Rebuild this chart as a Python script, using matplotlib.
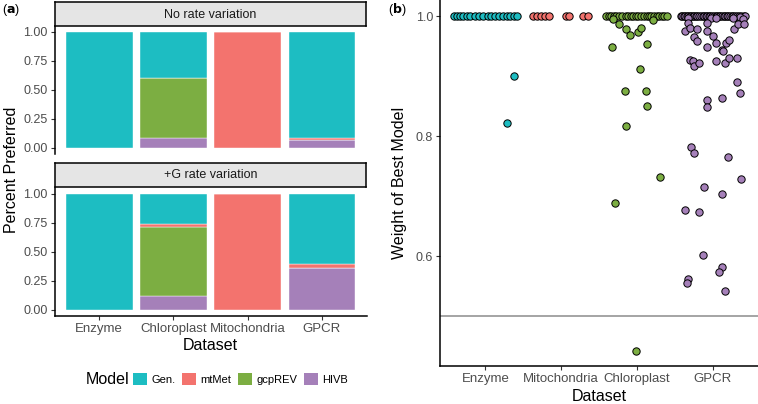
import numpy as np
import matplotlib
matplotlib.use("Agg")
import matplotlib.pyplot as plt
from matplotlib.patches import Patch

plt.rcParams['font.family'] = ['Liberation Sans', 'DejaVu Sans']

# ---- data: panel (a) ----
datasets_a = ['Enzyme', 'Chloroplast', 'Mitochondria', 'GPCR']
models = ['HIVB', 'gcpREV', 'mtMet', 'Gen.']          # stacking order, bottom -> top
legend_order = ['Gen.', 'mtMet', 'gcpREV', 'HIVB']
colors = {'Gen.': '#1DBDC2', 'mtMet': '#F3736E', 'gcpREV': '#7CAE42', 'HIVB': '#A580B9'}

no_rate = {
    'HIVB':   [0.0, 0.084, 0.0, 0.065],
    'gcpREV': [0.0, 0.519, 0.0, 0.0],
    'mtMet':  [0.0, 0.0, 1.0, 0.015],
    'Gen.':   [1.0, 0.397, 0.0, 0.920],
}
g_rate = {
    'HIVB':   [0.0, 0.123, 0.0, 0.364],
    'gcpREV': [0.0, 0.593, 0.0, 0.0],
    'mtMet':  [0.0, 0.021, 1.0, 0.034],
    'Gen.':   [1.0, 0.263, 0.0, 0.602],
}

# ---- data: panel (b) ----
datasets_b = ['Enzyme', 'Mitochondria', 'Chloroplast', 'GPCR']

enzyme_w = [1.0] * 18 + [0.900, 0.822]
enzyme_j = [-0.42, -0.38, -0.34, -0.29, -0.25, -0.20, -0.14, -0.08, -0.03,
            0.03, 0.08, 0.13, 0.18, 0.23, 0.28, 0.33, 0.38, 0.42, 0.38, 0.28]

mito_w = [1.0] * 9
mito_j = [-0.37, -0.32, -0.26, -0.21, -0.16, 0.07, 0.11, 0.29, 0.36]

chloro_w = [1.0] * 24 + [0.995, 0.987, 0.978, 0.969, 0.973, 0.980, 0.993, 0.949,
                         0.953, 0.911, 0.875, 0.875, 0.850, 0.817, 0.732, 0.688, 0.443]
chloro_j = [-0.41, -0.37, -0.34, -0.30, -0.27, -0.23, -0.19, -0.15, -0.12, -0.08,
            -0.05, -0.01, 0.02, 0.06, 0.09, 0.13, 0.16, 0.19, 0.23, 0.26, 0.29,
            0.33, 0.36, 0.40,
            -0.32, -0.24, -0.14, -0.09, 0.01, 0.05, 0.21, -0.33,
            0.13, 0.04, -0.16, 0.12, 0.14, -0.14, 0.30, -0.29, -0.01]

gpcr_w = [1.0] * 40 + [0.997, 0.996, 0.998, 0.995, 0.997, 0.996,
                       0.975, 0.988, 0.980, 0.965, 0.958, 0.978, 0.988, 0.975,
                       0.967, 0.955, 0.949, 0.955, 0.960, 0.943, 0.942, 0.978,
                       0.987, 0.987, 0.927, 0.925, 0.917, 0.922, 0.925, 0.921,
                       0.930, 0.930, 0.890, 0.872, 0.860, 0.848, 0.863, 0.782,
                       0.772, 0.765, 0.728, 0.715, 0.703, 0.677, 0.673, 0.602,
                       0.582, 0.573, 0.562, 0.555, 0.542]
gpcr_j = [-0.42, -0.40, -0.38, -0.36, -0.34, -0.32, -0.30, -0.28, -0.26, -0.24,
          -0.22, -0.20, -0.18, -0.15, -0.13, -0.11, -0.09, -0.07, -0.05, -0.03,
          -0.01, 0.02, 0.04, 0.06, 0.08, 0.10, 0.12, 0.15, 0.17, 0.19,
          0.21, 0.23, 0.25, 0.27, 0.30, 0.32, 0.35, 0.38, 0.41, 0.43,
          -0.02, 0.05, 0.36, 0.40, 0.27, -0.33,
          -0.36, -0.32, -0.30, -0.25, -0.20, -0.20, -0.08, -0.07,
          0.01, 0.05, -0.08, 0.18, 0.22, 0.13, 0.14, 0.28,
          0.34, 0.41, -0.30, -0.26, -0.25, -0.18, 0.05, 0.16,
          0.22, 0.32, 0.32, 0.36, -0.08, -0.07, 0.13, -0.29,
          -0.25, 0.20, 0.37, -0.11, 0.13, -0.36, -0.18, -0.13,
          0.12, 0.08, -0.33, -0.34, 0.17]

points_b = {
    'Enzyme': (enzyme_w, enzyme_j, colors['Gen.']),
    'Mitochondria': (mito_w, mito_j, colors['mtMet']),
    'Chloroplast': (chloro_w, chloro_j, colors['gcpREV']),
    'GPCR': (gpcr_w, gpcr_j, colors['HIVB']),
}

W, H = 758, 404
fig = plt.figure(figsize=(W / 100, H / 100), dpi=100)


def frac(x0, y0, x1, y1):
    # pixel box (top-left origin) -> figure fraction rect
    return [x0 / W, 1 - y1 / H, (x1 - x0) / W, (y1 - y0) / H]


def style_axis(ax, bottom=True):
    for s in ['top', 'right']:
        ax.spines[s].set_visible(False)
    ax.spines['left'].set_linewidth(1.1)
    ax.spines['bottom'].set_linewidth(1.1)
    ax.spines['bottom'].set_visible(bottom)
    ax.tick_params(length=3, width=0.8, color='#333333', labelcolor='#4D4D4D',
                   labelsize=9, pad=2)


# ---- panel (a) ----
xpos = np.arange(1, len(datasets_a) + 1)
panels = [(no_rate, 'No rate variation', (54.5, 25.7, 366.5, 153.5), (54.5, 2.5, 366.5, 25.7)),
          (g_rate, '+G rate variation', (54.5, 187.9, 366.5, 315.8), (54.5, 162.7, 366.5, 186.7))]
for i, (vals, title, box, sbox) in enumerate(panels):
    ax = fig.add_axes(frac(*box))
    bottom = np.zeros(len(datasets_a))
    for m in models:
        v = np.array(vals[m])
        ax.bar(xpos, v, width=0.9, bottom=bottom, color=colors[m],
               edgecolor='white', linewidth=0.3)
        bottom += v
    ax.set_xlim(0.4, 4.6)
    ax.set_ylim(-0.05, 1.05)
    ax.set_yticks([0, 0.25, 0.5, 0.75, 1.0])
    ax.set_yticklabels(['0.00', '0.25', '0.50', '0.75', '1.00'])
    ax.set_xticks(xpos)
    if i == 1:
        ax.set_xticklabels(datasets_a)
        style_axis(ax, bottom=True)
        ax.tick_params(axis='x', labelsize=9.5)
        ax.set_xlabel('Dataset', fontsize=11.5, labelpad=2)
    else:
        ax.set_xticklabels([])
        style_axis(ax, bottom=False)
        ax.tick_params(axis='x', length=0)
    sax = fig.add_axes(frac(*sbox))
    sax.set_xticks([])
    sax.set_yticks([])
    sax.set_facecolor('#E5E5E5')
    for s in sax.spines.values():
        s.set_linewidth(1.1)
    sax.text(0.5, 0.47, title, ha='center', va='center', fontsize=9, color='#1A1A1A',
             transform=sax.transAxes)

fig.text(12 / W, 1 - 170 / H, 'Percent Preferred', rotation=90, ha='center', va='center',
         fontsize=11.5)
fig.text(2 / W, 1 - 10 / H, r'($\bf{a}$)', fontsize=9, ha='left', va='center')

# legend
fig.text(86 / W, 1 - 380 / H, 'Model', fontsize=11.5, ha='left', va='center')
handles = [Patch(facecolor=colors[m], edgecolor='none', label=m) for m in legend_order]
fig.legend(handles=handles, loc='center left', bbox_to_anchor=(133 / W, 1 - 379 / H),
           ncol=4, frameon=False, fontsize=8, handlelength=1.25, handleheight=1.25,
           handletextpad=0.4, columnspacing=0.6, borderaxespad=0, borderpad=0)

# ---- panel (b) ----
axb = fig.add_axes(frac(440, 0, 758, 366.3))
for k, name in enumerate(datasets_b):
    w, j, c = points_b[name]
    axb.scatter(k + 1 + np.array(j), w, s=28, facecolor=c, edgecolor='black',
                linewidth=0.7, zorder=3)
axb.axhline(0.5, color='#8C8C8C', linewidth=1.1, zorder=1)
axb.set_xlim(0.4, 4.6)
axb.set_ylim(0.4167, 1.0267)
axb.set_yticks([0.6, 0.8, 1.0])
axb.set_yticklabels(['0.6', '0.8', '1.0'])
axb.set_xticks(np.arange(1, 5))
axb.set_xticklabels(datasets_b)
style_axis(axb)
axb.tick_params(axis='x', labelsize=9.5)
axb.tick_params(axis='y', labelsize=9)
axb.set_xlabel('Dataset', fontsize=11.5, labelpad=2.5)
axb.set_ylabel('Weight of Best Model', fontsize=11.5, labelpad=6)
fig.text(388 / W, 1 - 10 / H, r'($\bf{b}$)', fontsize=9, ha='left', va='center')

fig.savefig('out.png', dpi=100)
